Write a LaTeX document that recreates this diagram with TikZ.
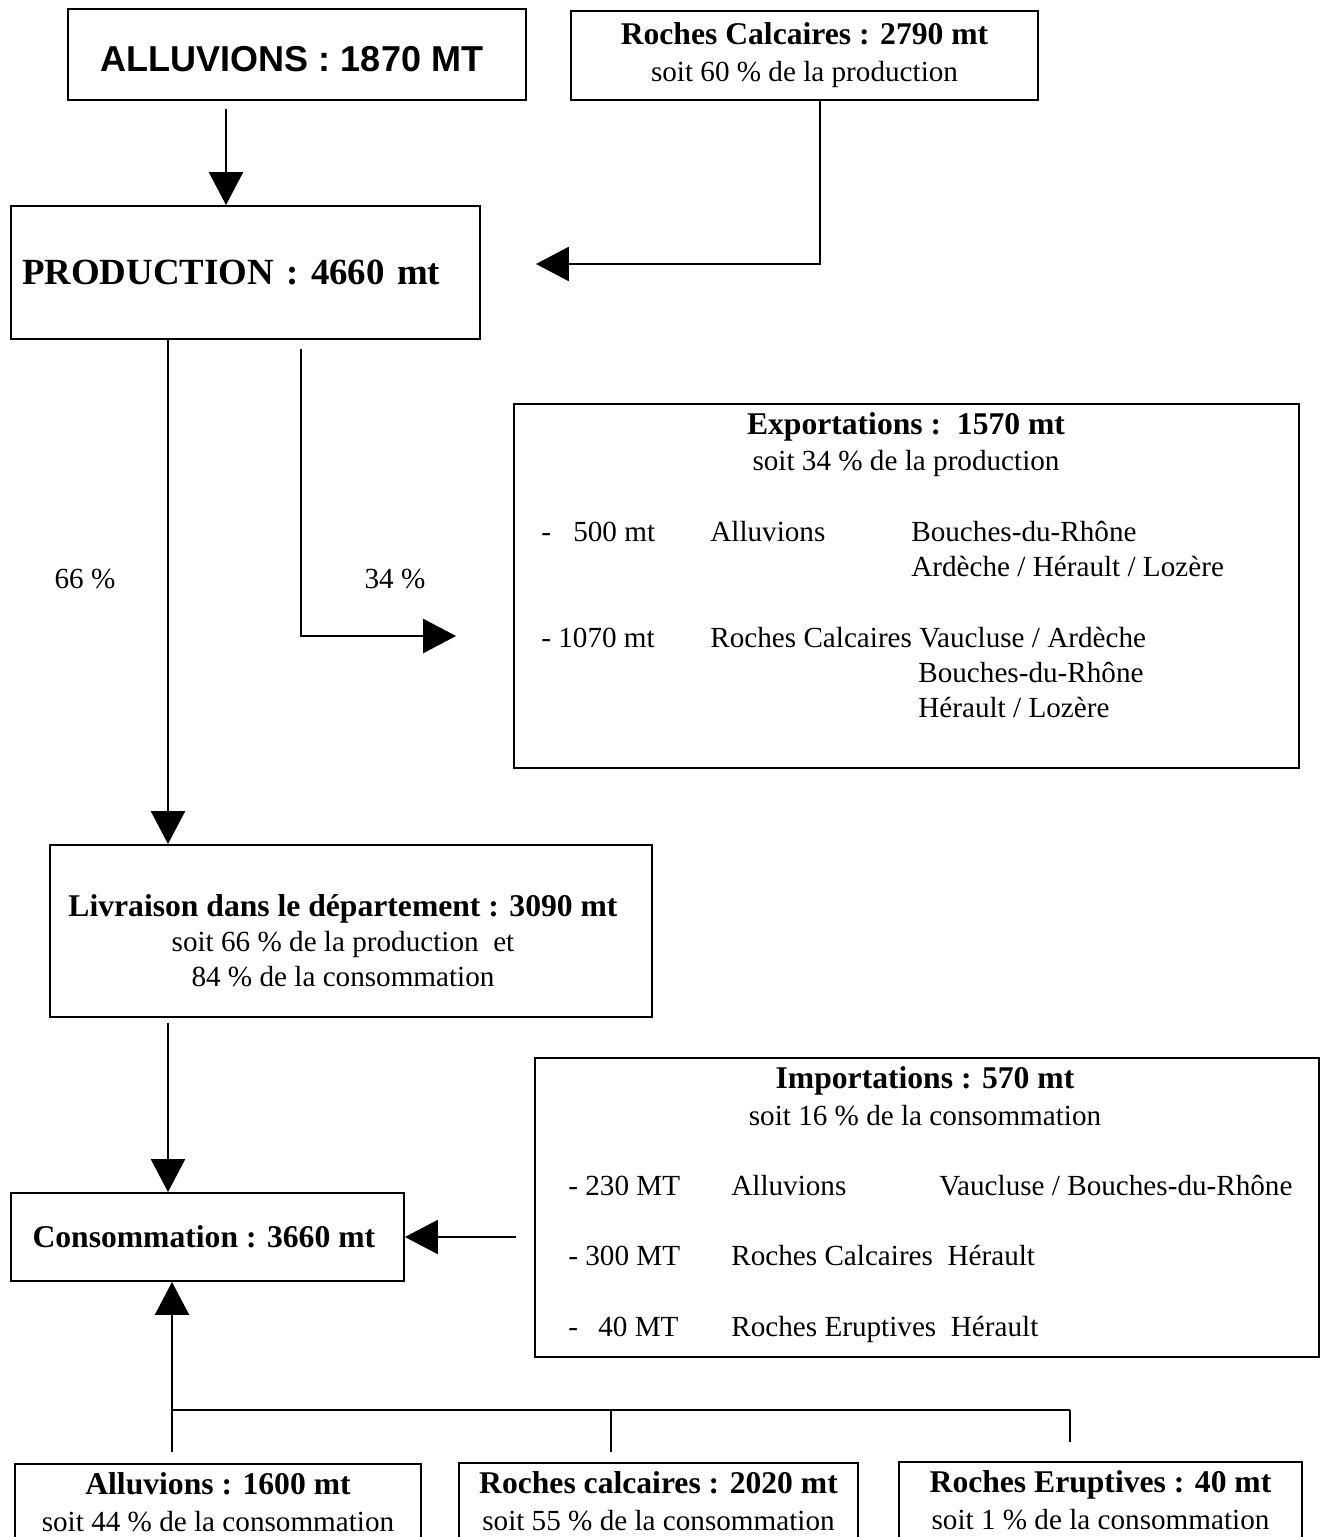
\documentclass[tikz,border=0pt]{standalone}
\usepackage{fontspec}
\setmainfont{Liberation Serif}
\newfontfamily\arialfont{Liberation Sans}
\usetikzlibrary{arrows.meta}
\newcommand{\boxtitle}[1]{{\fontsize{18}{21}\selectfont\bfseries #1}}

\begin{document}
\begin{tikzpicture}[
    x=0.02cm, y=-0.02cm,
    box/.style={
        draw,
        line width=1.1pt,
        inner sep=0pt,
        align=center,
        font=\fontsize{16.6}{21}\selectfont
    },
    txt/.style={inner sep=0pt, anchor=base west, font=\fontsize{16.6}{20}\selectfont},
    ctxt/.style={inner sep=0pt, anchor=base, align=center, font=\fontsize{16.6}{20}\selectfont},
    flow/.style={-{Triangle[length=0.66cm, width=0.68cm]}, line width=1.4pt},
    link/.style={line width=1.4pt}
]
\useasboundingbox (0,0) rectangle (1324,1537);

\node[box, minimum width=9.16cm, minimum height=1.82cm, text height=0.68cm, text depth=0pt] (alluvions) at (297,54.5) {
\arialfont\fontsize{20.5}{24}\selectfont\bfseries ALLUVIONS : 1870 MT
};

\node[box, minimum width=9.34cm, minimum height=1.78cm] (calcaires) at (804.5,55.5) {
\boxtitle{Roches Calcaires : 2790 mt}\\
soit 60 \% de la production
};

\node[box, minimum height=2.66cm, text width=8.94cm, inner xsep=0.22cm, align=left,
      font=\fontsize{21}{25}\selectfont\bfseries] (production) at (245.5,272.5) {
PRODUCTION : 4660 mt
};

\node[box, minimum width=15.7cm, minimum height=7.28cm] (exportations) at (906.5,586) {};
\node[ctxt] (exp_title) at (906,434) {\boxtitle{Exportations :\ \ 1570 mt}};
\node[ctxt] (exp_sub) at (906,470) {soit 34 \% de la production};
\node[txt] (exp_q1) at (541,541) {\makebox[0.64cm][l]{-}500 mt};
\node[txt] (exp_m1) at (710,541) {Alluvions};
\node[txt] (exp_d1) at (911,541) {Bouches-du-Rhône};
\node[txt] (exp_d1b) at (911,576) {Ardèche / Hérault / Lozère};
\node[txt] (exp_q2) at (541,647) {- 1070 mt};
\node[txt] (exp_m2) at (710,647) {Roches Calcaires Vaucluse / Ardèche};
\node[txt] (exp_d2) at (918,682) {Bouches-du-Rhône};
\node[txt] (exp_d2b) at (918,717) {Hérault / Lozère};

\node[ctxt] (lab66) at (85,588) {66 \%};
\node[ctxt] (lab34) at (395,588) {34 \%};

\node[box, minimum width=12.04cm, minimum height=3.44cm] (livraison) at (351,931) {};
\node[ctxt, anchor=center] (liv_text) at (343,941) {
\boxtitle{Livraison dans le département : 3090 mt}\\
soit 66 \% de la production\ \ et\\
84 \% de la consommation
};

\node[box, minimum width=7.86cm, minimum height=1.76cm] (consommation) at (207.5,1237) {
\boxtitle{Consommation : 3660 mt}
};

\node[box, minimum width=15.68cm, minimum height=5.98cm] (importations) at (927,1207.5) {};
\node[ctxt] (imp_title) at (925,1088) {\boxtitle{Importations : 570 mt}};
\node[ctxt] (imp_sub) at (925,1125) {soit 16 \% de la consommation};
\node[txt] (imp_q1) at (568,1195) {- 230 MT};
\node[txt] (imp_m1) at (731,1195) {Alluvions};
\node[txt] (imp_d1) at (939,1195) {Vaucluse / Bouches-du-Rhône};
\node[txt] (imp_q2) at (568,1265) {- 300 MT};
\node[txt] (imp_m2) at (731,1265) {Roches Calcaires\ \ Hérault};
\node[txt] (imp_q3) at (568,1336) {\makebox[0.6cm][l]{-}40 MT};
\node[txt] (imp_m3) at (731,1336) {Roches Eruptives\ \ Hérault};

\node[box, anchor=north, minimum width=8.12cm, minimum height=1.54cm] (conso_alluvions) at (218,1463) {
\boxtitle{Alluvions : 1600 mt}\\
soit 44 \% de la consommation
};

\node[box, anchor=north, minimum width=7.98cm, minimum height=1.54cm] (conso_calcaires) at (658.5,1462) {
\boxtitle{Roches calcaires : 2020 mt}\\
soit 55 \% de la consommation
};

\node[box, anchor=north, minimum width=8.06cm, minimum height=1.54cm] (conso_eruptives) at (1100.5,1461) {
\boxtitle{Roches Eruptives : 40 mt}\\
soit 1 \% de la consommation
};

\coordinate (in_prod) at (226,0);
\coordinate (calc_turn) at (820,264);
\coordinate (down_x) at (168,0);
\coordinate (exp_turn) at (301,636);
\coordinate (split) at (172,1410);
\coordinate (split_c) at (611,1410);
\coordinate (split_e) at (1070,1410);

\draw[flow, shorten <=0.16cm] (alluvions.south -| in_prod) -- (production.north -| in_prod);
\draw[flow, shorten >=1.1cm] (calcaires.south -| calc_turn) -- (calc_turn) -- (calc_turn -| production.east);
\draw[flow] (production.south -| down_x) -- (livraison.north -| down_x);
\draw[flow, shorten <=0.18cm, shorten >=1.14cm] (production.south -| exp_turn) -- (exp_turn) -- (exp_turn -| exportations.west);
\draw[flow, shorten <=0.1cm] (livraison.south -| down_x) -- (consommation.north -| down_x);
\draw[flow, shorten <=0.36cm] (importations.west |- consommation.east) -- (consommation.east);
\draw[flow, shorten <=0.22cm] (conso_alluvions.north -| split) -- (consommation.south -| split);
\draw[link] (split) -- (split_e);
\draw[link, shorten >=0.2cm] (split_c) -- (conso_calcaires.north -| split_c);
\draw[link, shorten >=0.38cm] (split_e) -- (conso_eruptives.north -| split_e);

\end{tikzpicture}
\end{document}
